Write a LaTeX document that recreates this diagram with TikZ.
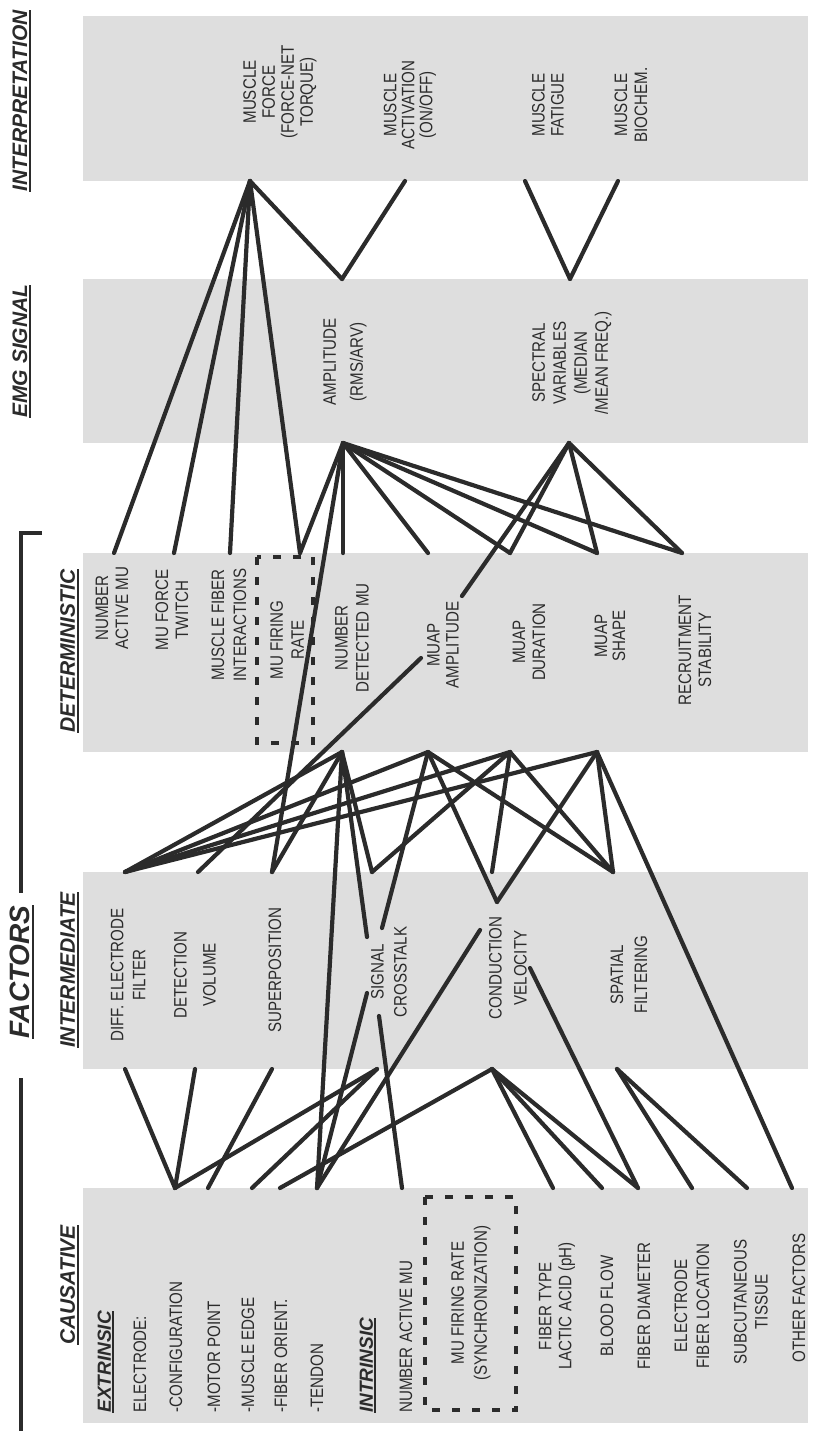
\documentclass[tikz,border=0pt]{standalone}
\usepackage{fontspec}
\setmainfont{Liberation Sans}
\newfontfamily\narrowsf{Liberation Sans}[FakeStretch=0.84]
\usetikzlibrary{positioning}
\definecolor{panelgray}{gray}{0.87}
\definecolor{ink}{gray}{0.17}
\newcommand{\headline}[1]{\setbox0=\hbox{#1}\rlap{\rule[-1.8pt]{\wd0}{1pt}}\box0}

\begin{document}
\begin{tikzpicture}[x=0.5pt, y=-0.5pt,
                panel/.style={fill=panelgray},
                link/.style={draw=ink, line width=2.1pt, line cap=round},
                item/.style={rotate=90, inner sep=0pt, text=ink, align=center, font=\narrowsf\fontsize{9}{10}\selectfont},
                leading/.style={font=\narrowsf\fontsize{9}{#1}\selectfont},
                head/.style={rotate=90, inner sep=0pt, text=ink, anchor=base, font=\bfseries\itshape\fontsize{10.5}{12}\selectfont},
                subhead/.style={rotate=90, inner sep=0pt, text=ink, anchor=west, font=\bfseries\itshape\fontsize{9.5}{11}\selectfont},
                dashbox/.style={draw=ink, line width=1.7pt, dash pattern=on 4pt off 6pt},
                bracket/.style={draw=ink, line width=2pt}]
                \useasboundingbox (0,0) rectangle (813,1431);

                % Column panels
                \fill[panel] (83,16) rectangle (808,181);
                \fill[panel] (83,279) rectangle (808,443);
                \fill[panel] (83,553) rectangle (808,752);
                \fill[panel] (83,872) rectangle (808,1069);
                \fill[panel] (83,1188) rectangle (808,1423);

                % Headings
                \node[head] (hInterp) at (27,101) {\headline{INTERPRETATION}};
                \node[head] (hEmg) at (27,351) {\headline{EMG SIGNAL}};
                \node[head, font=\bfseries\itshape\fontsize{14}{16}\selectfont] (hFactors) at (30,972) {\headline{FACTORS}};
                \node[head] (hDet) at (75,651) {\headline{DETERMINISTIC}};
                \node[head] (hInter) at (75,970) {\headline{INTERMEDIATE}};
                \node[head] (hCaus) at (75,1285) {\headline{CAUSATIVE}};
                \draw[bracket] (42,533) -- (21,533) -- (21,893);
                \draw[bracket] (21,1078) -- (21,1431);

                % Interpretation
                \node[item, leading=9.5] (force) at (280,92) {MUSCLE\\FORCE\\(FORCE-NET\\TORQUE)};
                \node[item, leading=9] (activ) at (410,105) {MUSCLE\\ACTIVATION\\(ON/OFF)};
                \node[item, leading=9.5] (fatigue) at (548,105) {MUSCLE\\FATIGUE};
                \node[item] (biochem) at (631,105) {MUSCLE\\BIOCHEM.};

                % EMG signal
                \node[item, leading=13.5] (amp) at (345,362) {AMPLITUDE\\(RMS/ARV)};
                \node[item, leading=10.5] (spec) at (572,363) {SPECTRAL\\VARIABLES\\(MEDIAN\\/MEAN FREQ.)};

                % Deterministic
                \node[item] (numact) at (112,608) {NUMBER\\ACTIVE MU};
                \node[item] (twitch) at (172,610) {MU FORCE\\TWITCH};
                \node[item, leading=11] (fibint) at (229,625) {MUSCLE FIBER\\INTERACTIONS};
                \node[item, leading=10.5] (firing) at (287,640) {MU FIRING\\RATE};
                \draw[dashbox] (257,557) rectangle (313,743);
                \node[item, leading=10.5] (numdet) at (352,638) {NUMBER\\DETECTED MU};
                \node[item, leading=9.5] (muapamp) at (443,645) {MUAP\\AMPLITUDE};
                \node[item] (muapdur) at (529,642) {MUAP\\DURATION};
                \node[item, leading=9] (muapshape) at (610,636) {MUAP\\SHAPE};
                \node[item] (recruit) at (695,650) {RECRUITMENT\\STABILITY};

                % Intermediate
                \node[item, leading=11] (diff) at (128,975) {DIFF. ELECTRODE\\FILTER};
                \node[item, leading=14.5] (detvol) at (195,975) {DETECTION\\VOLUME};
                \node[item] (superpos) at (275,970) {SUPERPOSITION};
                \node[item, leading=11.5] (crosstalk) at (389,972) {SIGNAL\\CROSSTALK};
                \node[item, leading=12.5] (condvel) at (508,968) {CONDUCTION\\VELOCITY};
                \node[item, leading=12] (spatial) at (629,975) {SPATIAL\\FILTERING};

                % Causative
                \node[subhead] (extr) at (106,1413) {\headline{EXTRINSIC}};
                \node[item, anchor=west] (electrode) at (140,1413) {ELECTRODE:};
                \node[item, anchor=west] (config) at (176,1413) {-CONFIGURATION};
                \node[item, anchor=west] (motor) at (214,1413) {-MOTOR POINT};
                \node[item, anchor=west] (edge) at (248,1413) {-MUSCLE EDGE};
                \node[item, anchor=west] (orient) at (281,1413) {-FIBER ORIENT.};
                \node[item, anchor=west] (tendon) at (317,1413) {-TENDON};
                \node[subhead] (intr) at (368,1413) {\headline{INTRINSIC}};
                \node[item, anchor=west] (cnumact) at (406,1413) {NUMBER ACTIVE MU};
                \draw[dashbox] (425,1197) rectangle (516,1410);
                \node[item, leading=11.5] (sync) at (471,1303) {MU FIRING RATE\\(SYNCHRONIZATION)};
                \node[item] (fibtype) at (557,1306) {FIBER TYPE\\LACTIC ACID (pH)};
                \node[item] (blood) at (607,1306) {BLOOD FLOW};
                \node[item] (diam) at (644,1306) {FIBER DIAMETER};
                \node[item, leading=11] (location) at (692,1306) {ELECTRODE\\FIBER LOCATION};
                \node[item, leading=10.5] (subcut) at (751,1302) {SUBCUTANEOUS\\TISSUE};
                \node[item] (other) at (799,1298) {OTHER FACTORS};

                % Link ends
                \coordinate (forceB) at (250,181);
                \coordinate (activB) at (405,181);
                \coordinate (fatigueB) at (525,181);
                \coordinate (biochemB) at (618,181);
                \coordinate (ampT) at (342,279);
                \coordinate (specT) at (570,279);
                \coordinate (ampB) at (343,443);
                \coordinate (specB) at (569,443);
                \coordinate (numactT) at (114,553);
                \coordinate (twitchT) at (174,553);
                \coordinate (fibintT) at (230,553);
                \coordinate (firingT) at (300,553);
                \coordinate (numdetT) at (343,553);
                \coordinate (muapampT) at (428,553);
                \coordinate (muapdurT) at (510,553);
                \coordinate (muapshapeT) at (597,553);
                \coordinate (recruitT) at (682,553);
                \coordinate (muapampR) at (462,596);
                \coordinate (muapampL) at (421,658);
                \coordinate (numdetB) at (342,752);
                \coordinate (muapampB) at (428,752);
                \coordinate (muapdurB) at (510,752);
                \coordinate (muapshapeB) at (597,752);
                \coordinate (diffT) at (125,872);
                \coordinate (detvolT) at (198,872);
                \coordinate (superposT) at (272,872);
                \coordinate (crosstalkT) at (372,872);
                \coordinate (condvelT) at (492,872);
                \coordinate (spatialT) at (613,872);
                \coordinate (crossA) at (367,937);
                \coordinate (crossB) at (382,928);
                \coordinate (crossC) at (367,993);
                \coordinate (crossD) at (379,1016);
                \coordinate (velA) at (497,902);
                \coordinate (velC) at (480,930);
                \coordinate (velD) at (530,968);
                \coordinate (diffB) at (125,1069);
                \coordinate (detvolB) at (195,1069);
                \coordinate (superposB) at (272,1069);
                \coordinate (crosstalkB) at (377,1069);
                \coordinate (condvelB) at (492,1069);
                \coordinate (spatialB) at (617,1069);
                \coordinate (configT) at (175,1188);
                \coordinate (motorT) at (208,1188);
                \coordinate (edgeT) at (252,1188);
                \coordinate (orientT) at (280,1188);
                \coordinate (tendonT) at (317,1188);
                \coordinate (cnumactT) at (402,1188);
                \coordinate (fibtypeT) at (553,1188);
                \coordinate (bloodT) at (602,1188);
                \coordinate (diamT) at (638,1188);
                \coordinate (locationT) at (692,1188);
                \coordinate (subcutT) at (747,1188);
                \coordinate (otherT) at (792,1188);

                % Interpretation - EMG signal
                \draw[link] (forceB) -- (ampT);
                \draw[link] (activB) -- (ampT);
                \draw[link] (fatigueB) -- (specT);
                \draw[link] (biochemB) -- (specT);
                \draw[link] (forceB) -- (numactT);
                \draw[link] (forceB) -- (twitchT);
                \draw[link] (forceB) -- (fibintT);
                \draw[link] (forceB) -- (firingT);

                % EMG signal - deterministic
                \draw[link] (ampB) -- (firingT);
                \draw[link] (ampB) -- (numdetT);
                \draw[link] (ampB) -- (muapampT);
                \draw[link] (ampB) -- (muapdurT);
                \draw[link] (ampB) -- (muapshapeT);
                \draw[link] (ampB) -- (recruitT);
                \draw[link] (ampB) -- (superposT);
                \draw[link] (specB) -- (muapdurT);
                \draw[link] (specB) -- (muapshapeT);
                \draw[link] (specB) -- (recruitT);
                \draw[link] (specB) -- (muapampR);

                % Deterministic - intermediate
                \draw[link] (diffT) -- (numdetB);
                \draw[link] (diffT) -- (muapampB);
                \draw[link] (diffT) -- (muapdurB);
                \draw[link] (diffT) -- (muapshapeB);
                \draw[link] (detvolT) -- (muapampL);
                \draw[link] (superposT) -- (numdetB);
                \draw[link] (crosstalkT) -- (numdetB);
                \draw[link] (crosstalkT) -- (muapdurB);
                \draw[link] (numdetB) -- (crossA);
                \draw[link] (muapampB) -- (crossB);
                \draw[link] (muapampB) -- (velA);
                \draw[link] (muapshapeB) -- (velA);
                \draw[link] (muapdurB) -- (condvelT);
                \draw[link] (muapampB) -- (spatialT);
                \draw[link] (muapdurB) -- (spatialT);
                \draw[link] (muapshapeB) -- (spatialT);
                \draw[link] (numdetB) -- (tendonT);
                \draw[link] (muapshapeB) -- (otherT);

                % Intermediate - causative
                \draw[link] (diffB) -- (configT);
                \draw[link] (detvolB) -- (configT);
                \draw[link] (superposB) -- (motorT);
                \draw[link] (crosstalkB) -- (configT);
                \draw[link] (crosstalkB) -- (edgeT);
                \draw[link] (crossC) -- (tendonT);
                \draw[link] (crossD) -- (cnumactT);
                \draw[link] (velC) -- (tendonT);
                \draw[link] (condvelB) -- (orientT);
                \draw[link] (condvelB) -- (fibtypeT);
                \draw[link] (condvelB) -- (bloodT);
                \draw[link] (condvelB) -- (diamT);
                \draw[link] (velD) -- (diamT);
                \draw[link] (spatialB) -- (locationT);
                \draw[link] (spatialB) -- (subcutT);
\end{tikzpicture}
\end{document}
